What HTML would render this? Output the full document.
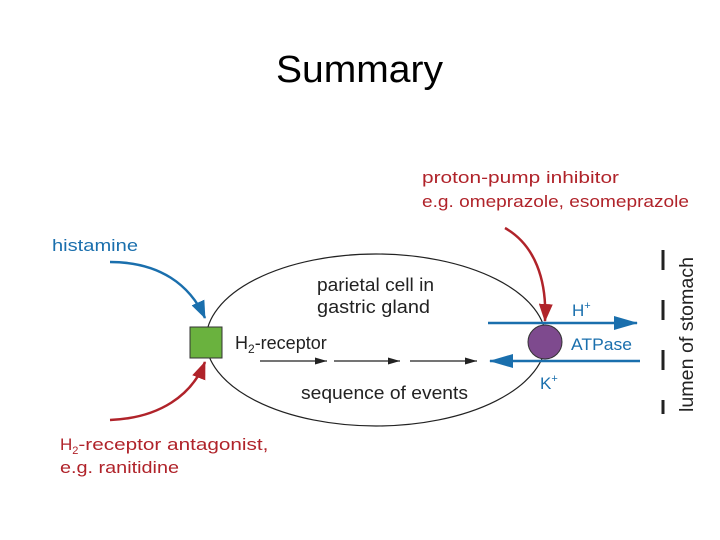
<!DOCTYPE html>
<html><head><meta charset="utf-8"><style>
html,body{margin:0;padding:0;background:#fff;}
svg{display:block;}
text{font-family:"Liberation Sans",sans-serif;}
</style></head><body>
<svg width="720" height="540" viewBox="0 0 720 540" xmlns="http://www.w3.org/2000/svg">
<defs>
<marker id="ab" markerWidth="24" markerHeight="14" refX="23" refY="7" orient="auto" markerUnits="userSpaceOnUse"><path d="M0,0 L24,7 L0,14 Z" fill="#1a6fad"/></marker>
<marker id="ac" markerWidth="18" markerHeight="14" refX="17" refY="7" orient="auto" markerUnits="userSpaceOnUse"><path d="M0,0 L18,7 L0,14 Z" fill="#1a6fad"/></marker>
<marker id="ar" markerWidth="18" markerHeight="14" refX="17" refY="7" orient="auto" markerUnits="userSpaceOnUse"><path d="M0,0 L18,7 L0,14 Z" fill="#b0232a"/></marker>
<marker id="ak" markerWidth="12" markerHeight="7" refX="12" refY="3.5" orient="auto" markerUnits="userSpaceOnUse"><path d="M0,0 L12,3.5 L0,7 Z" fill="#222"/></marker>
</defs>
<text x="276" y="82" font-size="38" textLength="167" lengthAdjust="spacingAndGlyphs" fill="#000">Summary</text>

<ellipse cx="376" cy="340" rx="170" ry="86" fill="none" stroke="#222" stroke-width="1.2"/>

<text x="317" y="291" font-size="18" fill="#222" textLength="117" lengthAdjust="spacingAndGlyphs">parietal cell in</text>
<text x="317" y="313" font-size="18" fill="#222" textLength="113" lengthAdjust="spacingAndGlyphs">gastric gland</text>
<text x="235" y="349" font-size="18" fill="#222">H<tspan font-size="12" dy="4">2</tspan><tspan dy="-4">-receptor</tspan></text>
<text x="301" y="399" font-size="18" fill="#222" textLength="167" lengthAdjust="spacingAndGlyphs">sequence of events</text>

<line x1="260" y1="361" x2="327" y2="361" stroke="#222" stroke-width="1.2" marker-end="url(#ak)"/>
<line x1="334" y1="361" x2="400" y2="361" stroke="#222" stroke-width="1.2" marker-end="url(#ak)"/>
<line x1="410" y1="361" x2="477" y2="361" stroke="#222" stroke-width="1.2" marker-end="url(#ak)"/>

<rect x="190" y="327" width="32" height="31" fill="#6ab23e" stroke="#333" stroke-width="1"/>
<circle cx="545" cy="342" r="17" fill="#7e4a8e" stroke="#333" stroke-width="1"/>

<line x1="488" y1="323" x2="637" y2="323" stroke="#1a6fad" stroke-width="2.5" marker-end="url(#ab)"/>
<line x1="640" y1="361" x2="490" y2="361" stroke="#1a6fad" stroke-width="2.5" marker-end="url(#ab)"/>
<text x="572" y="316" font-size="17" fill="#1a6fad">H<tspan font-size="11" dy="-7">+</tspan></text>
<text x="571" y="350" font-size="17" fill="#1a6fad" textLength="61" lengthAdjust="spacingAndGlyphs">ATPase</text>
<text x="540" y="389" font-size="17" fill="#1a6fad">K<tspan font-size="11" dy="-7">+</tspan></text>

<path d="M110,262 C160,262 190,285 205,318" fill="none" stroke="#1a6fad" stroke-width="2.5" marker-end="url(#ac)"/>
<path d="M110,420 C160,418 192,395 205,362" fill="none" stroke="#b0232a" stroke-width="2.5" marker-end="url(#ar)"/>
<path d="M505,228 C535,245 547,280 545,321" fill="none" stroke="#b0232a" stroke-width="2.5" marker-end="url(#ar)"/>

<text x="52" y="251" font-size="17" fill="#1a6fad" textLength="86" lengthAdjust="spacingAndGlyphs">histamine</text>
<text x="422" y="183" font-size="17" fill="#b0232a" textLength="197" lengthAdjust="spacingAndGlyphs">proton-pump inhibitor</text>
<text x="422" y="207" font-size="17" fill="#b0232a" textLength="267" lengthAdjust="spacingAndGlyphs">e.g. omeprazole, esomeprazole</text>
<text x="60" y="450" font-size="17" fill="#b0232a">H<tspan font-size="11" dy="4">2</tspan><tspan dy="-4" textLength="190" lengthAdjust="spacingAndGlyphs">-receptor antagonist,</tspan></text>
<text x="60" y="473" font-size="17" fill="#b0232a" textLength="119" lengthAdjust="spacingAndGlyphs">e.g. ranitidine</text>

<g stroke="#222" stroke-width="3">
<line x1="663" y1="250" x2="663" y2="270"/>
<line x1="663" y1="300" x2="663" y2="320"/>
<line x1="663" y1="350" x2="663" y2="370"/>
<line x1="663" y1="400" x2="663" y2="414"/>
</g>
<text transform="translate(693,412) rotate(-90)" font-size="19" fill="#222" textLength="155" lengthAdjust="spacingAndGlyphs">lumen of stomach</text>
</svg>
</body></html>
